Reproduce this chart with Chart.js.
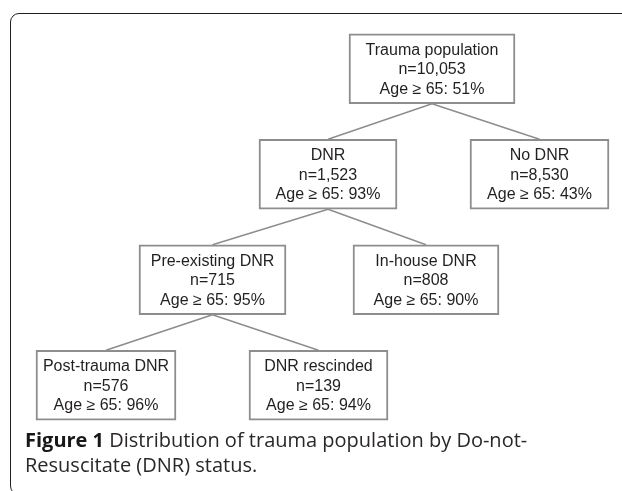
<!DOCTYPE html>
<html>
<head>
<meta charset="utf-8">
<script src="https://cdn.jsdelivr.net/npm/chart.js@4.4.0/dist/chart.umd.min.js"></script>
<style>
  html, body { margin: 0; padding: 0; background: #fff; }
  #wrap { position: relative; width: 622px; height: 491px; overflow: hidden; }
  #frame {
    position: absolute; left: 10px; top: 13px; width: 700px; height: 480px;
    border: 1.5px solid #231f20; border-radius: 9px;
  }
  #chart-tree { position: absolute; left: 0; top: 0; }
  #caption {
    position: absolute; left: 25px; top: 427px;
    font-family: "Open Sans", sans-serif; font-size: 20px; line-height: 25px; color: #2b2728;
  }
  #caption b { color: #1a1718; }
</style>
</head>
<body>
<div id="wrap">
  <div id="frame"></div>
  <canvas id="chart-tree" width="622" height="491"></canvas>
  <div id="caption"><b>Figure 1</b> Distribution of trauma population by Do-not-<br>Resuscitate (DNR) status.</div>
</div>
<script>
// tree data
const nodeNames = ['Trauma population', 'DNR', 'No DNR', 'Pre-existing DNR', 'In-house DNR', 'Post-trauma DNR', 'DNR rescinded']
const nodeCounts = [10053, 1523, 8530, 715, 808, 576, 139]
const nodeAgeOver65 = [51, 93, 43, 95, 90, 96, 94]
const nodeParent = [-1, 0, 0, 1, 1, 3, 3]
const nodeLevel = [0, 1, 1, 2, 2, 3, 3]
const levelLabels = ['All', 'DNR status', 'DNR origin', 'DNR course']

// layout: horizontal extent of each box (x scale runs in page pixels)
const boxSpan = [[349, 515], [259, 397], [470, 609], [139, 286], [353, 499], [36, 176], [249, 388]]

// slot = position of a node inside its level (left / right)
const nodeSlot = nodeLevel.map((lv, i) => nodeLevel.slice(0, i).filter(l => l === lv).length)
const slotNodes = [0, 1].map(s => levelLabels.map((_, lv) => {
  return nodeLevel.findIndex((l, i) => l === lv && nodeSlot[i] === s)
}))

const textColor = '#231f20'
const boxColor = '#8d8d8d'

function boxOf(chart, i) {
  const el = chart.getDatasetMeta(nodeSlot[i]).data[nodeLevel[i]]
  const p = el.getProps(['x', 'y', 'base', 'height'], true)
  return { cx: (p.x + p.base) / 2, top: p.y - p.height / 2, bottom: p.y + p.height / 2, cy: p.y }
}

const edgePlugin = {
  id: 'edges',
  beforeDatasetsDraw(chart) {
    const ctx = chart.ctx
    ctx.save()
    ctx.strokeStyle = boxColor
    ctx.lineWidth = 1.4
    nodeParent.forEach((p, i) => {
      if (p < 0) return
      const a = boxOf(chart, p)
      const b = boxOf(chart, i)
      ctx.beginPath()
      ctx.moveTo(a.cx, a.bottom)
      ctx.lineTo(b.cx, b.top)
      ctx.stroke()
    })
    ctx.restore()
  }
}

const labelPlugin = {
  id: 'boxText',
  afterDatasetsDraw(chart) {
    const ctx = chart.ctx
    ctx.save()
    ctx.fillStyle = textColor
    ctx.font = '16px "Liberation Sans", Arial, sans-serif'
    ctx.textAlign = 'center'
    ctx.textBaseline = 'middle'
    nodeNames.forEach((name, i) => {
      const b = boxOf(chart, i)
      const lines = [
        name,
        'n=' + nodeCounts[i].toLocaleString('en-US'),
        'Age \u2265 65: ' + nodeAgeOver65[i] + '%'
      ]
      lines.forEach((t, k) => ctx.fillText(t, b.cx, b.cy + (k - 1) * 19.5 + 1))
    })
    ctx.restore()
  }
}

new Chart(document.getElementById('chart-tree'), {
  type: 'bar',
  data: {
    labels: levelLabels,
    datasets: slotNodes.map(list => ({
      data: list.map(i => i < 0 ? null : boxSpan[i]),
      backgroundColor: '#ffffff',
      borderColor: boxColor,
      borderWidth: 2,
      borderSkipped: false,
      barThickness: 70,
      grouped: false
    }))
  },
  options: {
    indexAxis: 'y',
    responsive: false,
    animation: false,
    layout: { padding: { top: 16, bottom: 53, left: 0, right: 0 } },
    scales: {
      x: { type: 'linear', min: 0, max: 622, display: false },
      y: { type: 'category', display: false, offset: true }
    },
    plugins: {
      legend: { display: false },
      tooltip: { enabled: false }
    }
  },
  plugins: [edgePlugin, labelPlugin]
})
</script>
</body>
</html>
